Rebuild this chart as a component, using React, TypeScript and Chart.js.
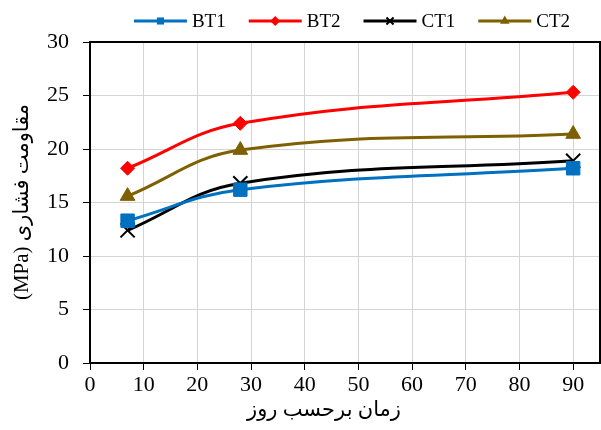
import React, { useEffect, useRef } from "react";
import { Chart, registerables } from "chart.js";
Chart.register(...registerables);

const days = [7, 28, 90];
const seriesNames = ["BT1", "BT2", "CT1", "CT2"];
const bt1 = [13.3, 16.2, 18.2];
const bt2 = [18.2, 22.4, 25.3];
const ct1 = [12.4, 16.8, 18.9];
const ct2 = [15.6, 19.9, 21.4];
const xTickValues = [0, 10, 20, 30, 40, 50, 60, 70, 80, 90];
const xTitle = "زمان برحسب روز";
const yTitle = "(MPa) مقاومت فشاری";

const colors = ["#0070C0", "#FF0000", "#000000", "#7F6000"];
const styles = ["rect", "rectRot", "crossRot", "triangle"];
const radii = [9.5, 7, 10, 8.5];

const SERIF = "'Times New Roman', 'Liberation Serif', 'DejaVu Sans', serif";

function drawMarker(ctx: CanvasRenderingContext2D, style: string, x: number, y: number, r: number, color: string) {
  ctx.save();
  ctx.fillStyle = color;
  ctx.strokeStyle = color;
  ctx.beginPath();
  if (style === "rect") {
    const s = r * Math.SQRT1_2;
    ctx.rect(x - s, y - s, 2 * s, 2 * s);
    ctx.fill();
  } else if (style === "rectRot") {
    ctx.moveTo(x - r, y);
    ctx.lineTo(x, y - r);
    ctx.lineTo(x + r, y);
    ctx.lineTo(x, y + r);
    ctx.closePath();
    ctx.fill();
  } else if (style === "triangle") {
    ctx.moveTo(x, y - r);
    ctx.lineTo(x + r * 0.866, y + r * 0.5);
    ctx.lineTo(x - r * 0.866, y + r * 0.5);
    ctx.closePath();
    ctx.fill();
  } else {
    const s = r * Math.SQRT1_2;
    ctx.lineWidth = 2;
    ctx.moveTo(x - s, y - s);
    ctx.lineTo(x + s, y + s);
    ctx.moveTo(x + s, y - s);
    ctx.lineTo(x - s, y + s);
    ctx.stroke();
  }
  ctx.restore();
}

const extrasPlugin = {
  id: "extras",
  beforeDatasetsDraw(chart: any) {
    const { ctx, chartArea } = chart;
    ctx.save();
    ctx.strokeStyle = "#000";
    ctx.lineWidth = 2;
    ctx.strokeRect(chartArea.left, chartArea.top, chartArea.right - chartArea.left, chartArea.bottom - chartArea.top);
    ctx.restore();
  },
  afterDraw(chart: any) {
    const { ctx } = chart;
    ctx.save();
    // legend
    ctx.font = `19px ${SERIF}`;
    ctx.textBaseline = "middle";
    ctx.textAlign = "left";
    const lineLen = 53;
    const gapText = 5;
    const gapItem = 23;
    const widths = seriesNames.map((n) => lineLen + gapText + ctx.measureText(n).width);
    const total = widths.reduce((a, b) => a + b, 0) + gapItem * (widths.length - 1);
    let x = 352 - total / 2;
    const ly = 21;
    const legendR = [5, 5, 5, 5.5];
    seriesNames.forEach((n, i) => {
      ctx.strokeStyle = colors[i];
      ctx.lineWidth = 3;
      ctx.beginPath();
      ctx.moveTo(x, ly);
      ctx.lineTo(x + lineLen, ly);
      ctx.stroke();
      drawMarker(ctx, styles[i], x + lineLen / 2, ly, legendR[i], colors[i]);
      ctx.fillStyle = "#000";
      ctx.fillText(n, x + lineLen + gapText, ly + 1);
      x += widths[i] + gapItem;
    });
    // axis titles
    ctx.font = `21px ${SERIF}`;
    ctx.textAlign = "center";
    ctx.fillStyle = "#000";
    ctx.fillText(xTitle, 324, 410);
    ctx.translate(22, 202);
    ctx.rotate(-Math.PI / 2);
    ctx.fillText(yTitle, 0, 0);
    ctx.restore();
  },
};

export default function App() {
  const ref = useRef<HTMLCanvasElement>(null);
  useEffect(() => {
    if (!ref.current) return;
    const all = [bt1, bt2, ct1, ct2];
    const tickFont = { family: SERIF, size: 22 };
    const chart = new Chart(ref.current, {
      type: "line",
      data: {
        datasets: all.map((vals, i) => ({
          label: seriesNames[i],
          data: days.map((d, j) => ({ x: d, y: vals[j] })),
          borderColor: colors[i],
          backgroundColor: colors[i],
          borderWidth: 3,
          tension: 0.4,
          pointStyle: styles[i] as any,
          pointRadius: radii[i],
          pointBorderWidth: i === 2 ? 2 : 1,
          pointBorderColor: colors[i],
          pointBackgroundColor: colors[i],
          fill: false,
          clip: false,
        })),
      },
      options: {
        animation: false,
        responsive: false,
        layout: { autoPadding: false, padding: { top: 42, right: 1, left: 0, bottom: 0 } },
        plugins: { legend: { display: false }, tooltip: { enabled: false } },
        scales: {
          x: {
            type: "linear",
            min: 0,
            max: 95,
            ticks: { stepSize: 10, font: tickFont, color: "#000", padding: 2, maxRotation: 0 },
            grid: { color: "#d4d4d4", tickColor: "#000", tickLength: 7, lineWidth: 1 },
            border: { color: "#000", width: 2 },
            afterBuildTicks: (s: any) => {
              s.ticks = xTickValues.map((v) => ({ value: v }));
            },
            afterFit: (s: any) => {
              s.height = 67;
              s.paddingRight = 0;
              s.paddingLeft = 0;
            },
          },
          y: {
            min: 0,
            max: 30,
            ticks: { stepSize: 5, font: tickFont, color: "#000", padding: 14 },
            grid: { color: "#d4d4d4", tickColor: "#000", tickLength: 7, lineWidth: 1 },
            border: { color: "#000", width: 2 },
            afterFit: (s: any) => {
              s.width = 90;
            },
          },
        },
      },
      plugins: [extrasPlugin],
    });
    return () => chart.destroy();
  }, []);
  return (
    <div style={{ position: "fixed", left: 0, top: 0, width: 601, height: 430, background: "#fff" }}>
      <canvas ref={ref} width={601} height={430} />
    </div>
  );
}
